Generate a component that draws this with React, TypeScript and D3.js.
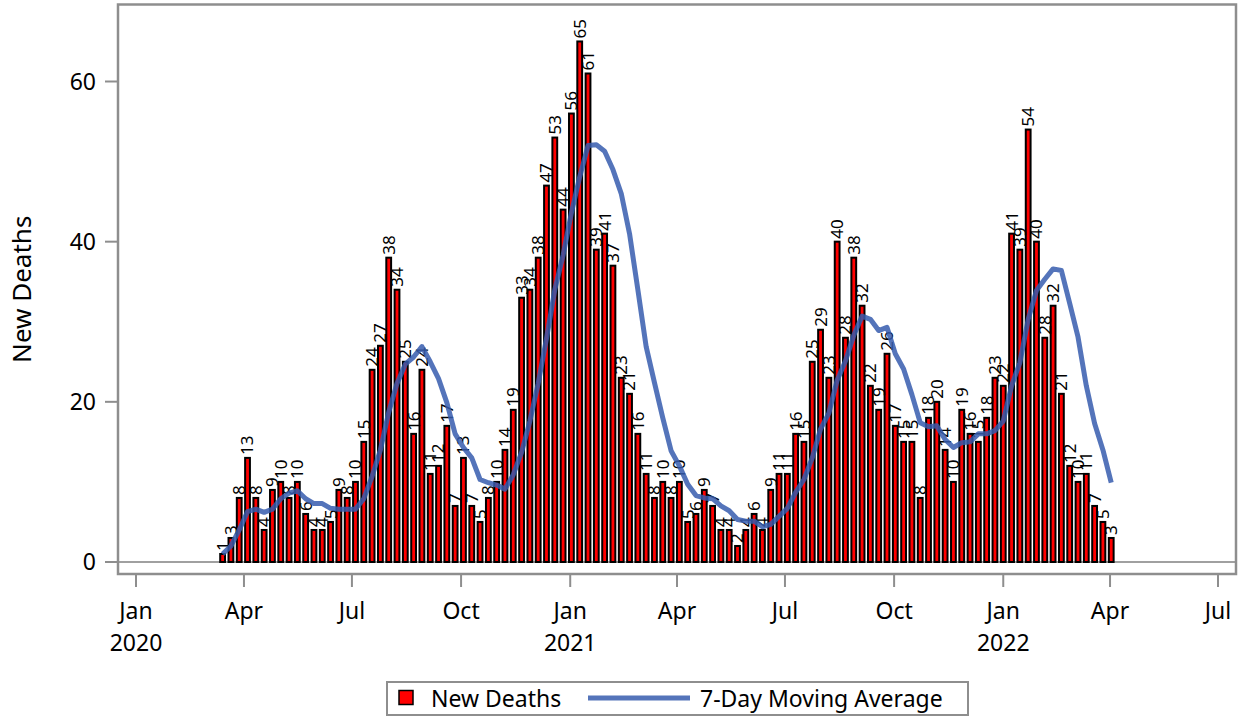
import React, { useRef, useEffect } from "react";
import * as d3 from "d3";

// weekly counts, first week starting 2020-03-14
const firstWeek = "2020-03-14";
const newDeaths = [
  1, 3, 8, 13, 8, 4, 9, 10, 8, 10, 6, 4, 4, 5, 9, 8, 10, 15, 24, 27, 38, 34, 25, 16, 24, 11, 12, 17, 7, 13,
  7, 5, 8, 10, 14, 19, 33, 34, 38, 47, 53, 44, 56, 65, 61, 39, 41, 37, 23, 21, 16, 11, 8, 10, 8, 10, 5, 6,
  9, 7, 4, 4, 2, 4, 6, 4, 9, 11, 11, 16, 15, 25, 29, 23, 40, 28, 38, 32, 22, 19, 26, 17, 15, 15, 8, 18, 20,
  14, 10, 19, 16, 15, 18, 23, 22, 41, 39, 54, 40, 28, 32, 21, 12, 10, 11, 7, 5, 3,
];
// blue line at each week
const movingAvg = [
  1, 2, 4, 6.3, 6.6, 6.2, 6.6, 7.9, 8.6, 8.9, 7.9, 7.3, 7.3, 6.7, 6.6, 6.6, 6.6, 7.9, 10.7, 14, 18.7, 22.3,
  24.7, 25.6, 26.9, 25, 22.9, 19.9, 16, 14.3, 13, 10.3, 9.9, 9.6, 9.1, 10.9, 13.7, 17.6, 22.3, 27.9, 34,
  38.3, 43.6, 48.1, 52, 52.1, 51.3, 49, 46, 41, 34, 26.9, 22.4, 18, 13.9, 12, 9.7, 8.3, 8, 7.9, 7, 6.4,
  5.3, 5.1, 5.1, 4.4, 4.7, 5.7, 6.7, 8.7, 10.3, 13, 16.6, 18.6, 22.7, 25.1, 28.3, 30.7, 30.3, 28.9, 29.3,
  26, 24.1, 20.9, 17.4, 16.9, 17, 15.3, 14.3, 14.9, 15, 16, 16, 16.4, 17.6, 22, 24.9, 30.3, 33.9, 35.3,
  36.6, 36.4, 32.3, 28.1, 22, 17.3, 14, 9.9,
];

const tickDates = [
  "2020-01-01", "2020-04-01", "2020-07-01", "2020-10-01", "2021-01-01", "2021-04-01",
  "2021-07-01", "2021-10-01", "2022-01-01", "2022-04-01", "2022-07-01",
];
const tickMonths = ["Jan", "Apr", "Jul", "Oct", "Jan", "Apr", "Jul", "Oct", "Jan", "Apr", "Jul"];
const tickYears = ["2020", "", "", "", "2021", "", "", "", "2022", "", ""];
const yTicks = [0, 20, 40, 60];

const FONT = "'Noto Sans', 'DejaVu Sans', sans-serif";
const GRAY = "#8e8e8e";

const App: React.FC = () => {
  const ref = useRef<SVGSVGElement>(null);

  useEffect(() => {
    const svg = d3.select(ref.current);
    svg.selectAll("*").remove();

    const left = 118,
      right = 1236,
      top = 4.5,
      bottom = 574;

    const parse = d3.utcParse("%Y-%m-%d");
    const start = parse(firstWeek) as Date;
    const weeks = newDeaths.map((_, i) => d3.utcDay.offset(start, 7 * i));

    const x = d3
      .scaleUtc()
      .domain([parse("2020-01-01") as Date, parse("2022-07-01") as Date])
      .range([136, 1218]);
    const y = d3.scaleLinear().domain([0, 60]).range([562, 81.5]);

    // baseline
    svg
      .append("line")
      .attr("x1", left)
      .attr("x2", right)
      .attr("y1", y(0))
      .attr("y2", y(0))
      .attr("stroke", "#a0a0a0")
      .attr("stroke-width", 2);

    // bars
    const bw = 4.8;
    svg
      .append("g")
      .selectAll("rect")
      .data(newDeaths)
      .join("rect")
      .attr("x", (_, i) => x(weeks[i]) - bw / 2)
      .attr("y", (d) => y(d))
      .attr("width", bw)
      .attr("height", (d) => y(0) - y(d))
      .attr("fill", "#ff0000")
      .attr("stroke", "#000")
      .attr("stroke-width", 2);

    // bar labels
    svg
      .append("g")
      .selectAll("text")
      .data(newDeaths)
      .join("text")
      .attr("transform", (d, i) => `translate(${x(weeks[i])},${y(d) - 3}) rotate(-90)`)
      .attr("dy", "0.35em")
      .attr("font-family", FONT)
      .attr("font-size", 17)
      .attr("fill", "#000")
      .text((d) => d);

    // moving average
    const line = d3
      .line<number>()
      .x((_, i) => x(weeks[i]))
      .y((d) => y(d));
    svg
      .append("path")
      .datum(movingAvg)
      .attr("d", line)
      .attr("fill", "none")
      .attr("stroke", "#365cae")
      .attr("stroke-opacity", 0.85)
      .attr("stroke-width", 5)
      .attr("stroke-linejoin", "round");

    // frame
    svg
      .append("rect")
      .attr("x", left)
      .attr("y", top)
      .attr("width", right - left)
      .attr("height", bottom - top)
      .attr("fill", "none")
      .attr("stroke", GRAY)
      .attr("stroke-width", 2.5);

    // y axis
    const yg = svg.append("g");
    yTicks.forEach((t) => {
      yg.append("line")
        .attr("x1", left - 13)
        .attr("x2", left)
        .attr("y1", y(t))
        .attr("y2", y(t))
        .attr("stroke", GRAY)
        .attr("stroke-width", 2);
      yg.append("text")
        .attr("x", left - 22)
        .attr("y", y(t))
        .attr("dy", "0.36em")
        .attr("text-anchor", "end")
        .attr("font-family", FONT)
        .attr("font-size", 23)
        .text(t);
    });
    svg
      .append("text")
      .attr("transform", `translate(31,${(top + bottom) / 2}) rotate(-90)`)
      .attr("text-anchor", "middle")
      .attr("font-family", FONT)
      .attr("font-size", 26)
      .text("New Deaths");

    // x axis
    const xg = svg.append("g");
    tickDates.forEach((s, i) => {
      const px = x(parse(s) as Date);
      xg.append("line")
        .attr("x1", px)
        .attr("x2", px)
        .attr("y1", bottom)
        .attr("y2", bottom + 13)
        .attr("stroke", GRAY)
        .attr("stroke-width", 2);
      xg.append("text")
        .attr("x", px)
        .attr("y", 619)
        .attr("text-anchor", "middle")
        .attr("font-family", FONT)
        .attr("font-size", 23)
        .text(tickMonths[i]);
      if (tickYears[i])
        xg.append("text")
          .attr("x", px)
          .attr("y", 651)
          .attr("text-anchor", "middle")
          .attr("font-family", FONT)
          .attr("font-size", 23)
          .text(tickYears[i]);
    });

    // legend
    const lg = svg.append("g");
    lg.append("rect")
      .attr("x", 387)
      .attr("y", 682)
      .attr("width", 581)
      .attr("height", 33)
      .attr("fill", "#fff")
      .attr("stroke", GRAY)
      .attr("stroke-width", 2);
    lg.append("rect")
      .attr("x", 399)
      .attr("y", 690.5)
      .attr("width", 14)
      .attr("height", 14)
      .attr("fill", "#ff0000")
      .attr("stroke", "#000")
      .attr("stroke-width", 1.5);
    lg.append("text")
      .attr("x", 431)
      .attr("y", 707)
      .attr("font-family", FONT)
      .attr("font-size", 23)
      .text("New Deaths");
    lg.append("line")
      .attr("x1", 588)
      .attr("x2", 690)
      .attr("y1", 698)
      .attr("y2", 698)
      .attr("stroke", "#365cae")
      .attr("stroke-opacity", 0.85)
      .attr("stroke-width", 5);
    lg.append("text")
      .attr("x", 700)
      .attr("y", 707)
      .attr("font-family", FONT)
      .attr("font-size", 23)
      .text("7-Day Moving Average");
  }, []);

  return (
    <svg
      ref={ref}
      width={1248}
      height={718}
      style={{ position: "absolute", left: 0, top: 0, background: "#fff" }}
    />
  );
};

export default App;
